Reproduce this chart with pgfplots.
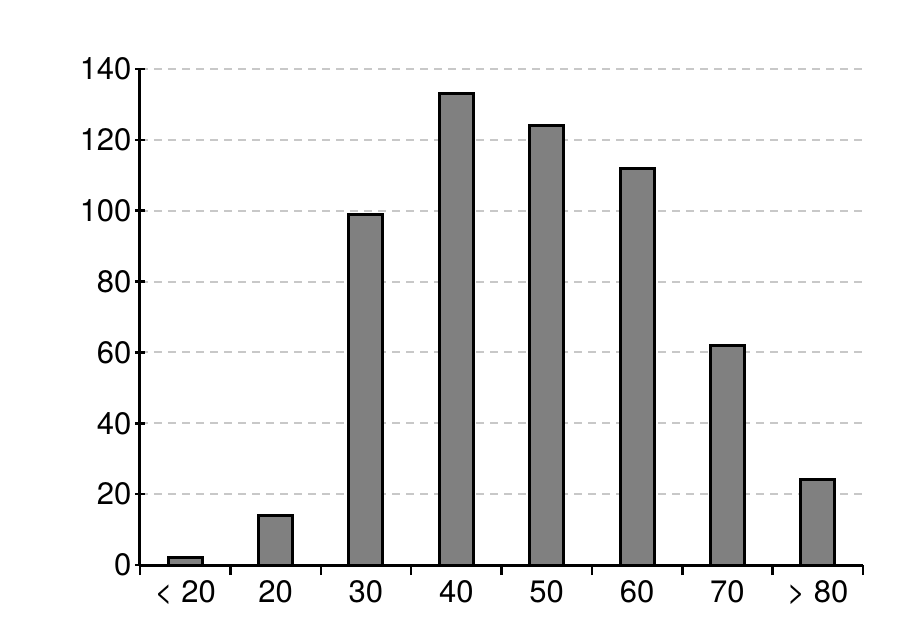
\documentclass[border=0pt]{standalone}
\usepackage{fontspec}
\setmainfont{TeX Gyre Heros}
\usepackage{pgfplots}
\pgfplotsset{compat=1.18}
\definecolor{barfill}{HTML}{808080}
\definecolor{gridgray}{HTML}{C8C8C8}

\begin{document}
\begin{tikzpicture}
\begin{axis}[
  at={(0,0)}, anchor=south west,
  scale only axis,
  width=723pt, height=496pt,
  xmin=-0.5, xmax=7.5,
  ymin=0, ymax=140,
  ytick={0,20,...,140},
  xtick={0,...,7},
  xticklabels={< 20,20,30,40,50,60,70,> 80},
  minor xtick={-0.5,0.5,...,7.5},
  major x tick style={draw=none},
  tick align=outside,
  major tick length=10pt,
  minor tick length=10pt,
  tick style={line width=2.5pt, black},
  axis lines=left,
  axis line style={-, line width=3pt},
  ymajorgrids,
  grid style={draw=gridgray, line width=2pt, dash pattern=on 8pt off 6pt},
  tick label style={font=\fontsize{31}{36}\selectfont},
  xticklabel style={yshift=-2pt},
  /pgf/number format/assume math mode=true,
  ybar, bar width=34pt,
  clip=false,
]
\addplot[fill=barfill, draw=black, line width=3pt] coordinates {
  (0,2) (1,14) (2,99) (3,133) (4,124) (5,112) (6,62) (7,24)
};
\end{axis}
\useasboundingbox (-140pt,-67pt) rectangle (764pt,565pt);
\end{tikzpicture}
\end{document}
